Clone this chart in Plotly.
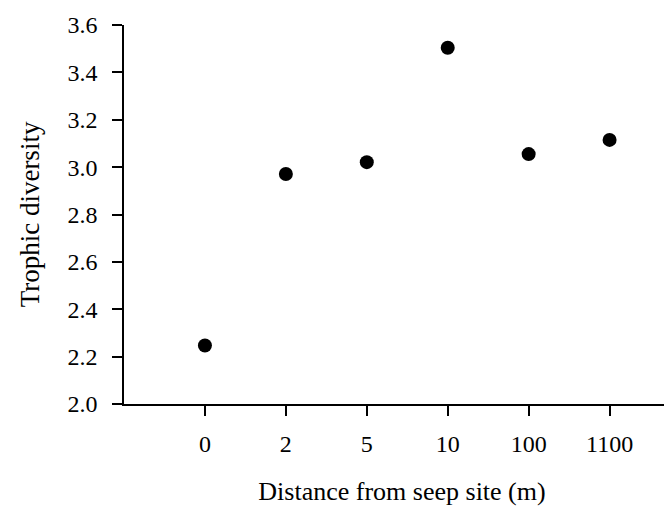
import plotly.graph_objects as go

distance = ["0", "2", "5", "10", "100", "1100"]
trophic_diversity = [2.247, 2.971, 3.021, 3.504, 3.055, 3.115]

serif = "Liberation Serif"

fig = go.Figure()
fig.add_trace(go.Scatter(x=distance, y=trophic_diversity, mode="markers",
                         marker=dict(color="black", size=14),
                         showlegend=False))

fig.update_layout(width=672, height=509, paper_bgcolor="white", plot_bgcolor="white",
                  margin=dict(l=116, r=0, t=17, b=113),
                  font=dict(family=serif, color="black", size=24))
fig.update_xaxes(type="category", range=[-1, 5.87], showline=True, linecolor="black", linewidth=1.6,
                 ticks="outside", ticklen=10, tickwidth=1.6, tickcolor="black",
                 showgrid=False, zeroline=False, ticklabelstandoff=7,
                 title=dict(text="Distance from seep site (m)", font=dict(size=26), standoff=26))
fig.update_yaxes(range=[2.0, 3.6], dtick=0.2, tickformat=".1f", showline=True, linecolor="black",
                 linewidth=1.6, ticks="outside", ticklen=10, tickwidth=1.6, tickcolor="black",
                 showgrid=False, zeroline=False, ticklabelstandoff=10,
                 title=dict(text="Trophic diversity", font=dict(size=27), standoff=20))

fig.write_html("out.html")
